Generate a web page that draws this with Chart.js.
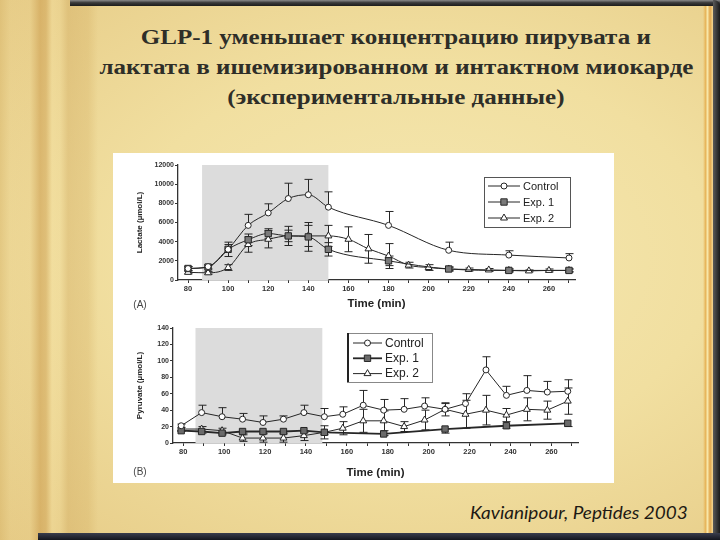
<!DOCTYPE html>
<html>
<head>
<meta charset="utf-8">
<script src="https://cdn.jsdelivr.net/npm/chart.js@4.4.1/dist/chart.umd.min.js"></script>
<style>
html, body { margin: 0; padding: 0; }
#slide {
    position: relative; width: 720px; height: 540px; overflow: hidden;
    background:
        linear-gradient(to right,
            rgba(205,165,85,0.30) 0px, rgba(230,200,130,0.10) 10px, rgba(230,200,130,0.15) 30px,
            rgba(200,150,70,0.50) 40px, rgba(200,150,70,0.40) 46px, rgba(250,232,170,0.25) 52px,
            rgba(250,232,170,0.10) 60px, rgba(205,165,90,0.35) 68px, rgba(210,172,95,0.30) 88px,
            rgba(240,220,160,0) 98px),
        radial-gradient(ellipse at 58% 48%, #f5e8b2 0%, #f1dfa0 50%, #e6cb86 100%);
}
.bar { position: absolute; }
#title {
    position: absolute; left: 96px; top: 22px; width: 600px;
    text-align: center; white-space: nowrap;
    font: bold 20px 'Liberation Serif', 'DejaVu Serif', 'Times New Roman', serif;
    line-height: 30px; color: #2e2e28;
}
#title span { display: inline-block; transform-origin: 50% 50%; }
#cite {
    position: absolute; right: 32px; top: 503px; white-space: nowrap;
    font: italic 18px Lato, 'Open Sans', sans-serif; line-height: 18px; color: #1e1a14;
    transform-origin: 100% 50%;
}
#paper { position: absolute; left: 113px; top: 153px; width: 501px; height: 330px; background: #fff; }
#boxA { position: absolute; left: 0; top: 0; width: 501px; height: 163px; }
#boxB { position: absolute; left: 0; top: 163px; width: 501px; height: 167px; }
</style>
</head>
<body>
<div id="slide">
    <div class="bar" style="left:70px;top:0;width:650px;height:6px;background:linear-gradient(#8a8a8a,#3a3a3a 45%,#1c1c1c);"></div>
    <div class="bar" style="left:703px;top:6px;width:10px;height:527px;background:linear-gradient(to right,rgba(0,0,0,0),#e7b65c 25%,#f7e6a8 45%,#e2a64a 70%,#f3d896);"></div>
    <div class="bar" style="left:713px;top:0;width:7px;height:540px;background:linear-gradient(to right,#5a5a5a,#1a1a1a);border-top-right-radius:6px;"></div>
    <div class="bar" style="left:38px;top:533px;width:682px;height:7px;background:linear-gradient(#3a3d4c,#14161f);"></div>

    <div id="title">
        <div><span>GLP-1 уменьшает концентрацию пирувата и</span></div>
        <div><span>лактата в ишемизированном и интактном миокарде</span></div>
        <div><span>(экспериментальные данные)</span></div>
    </div>

    <div id="paper">
        <div id="boxA"><canvas id="lactate"></canvas></div>
        <div id="boxB"><canvas id="pyruvate"></canvas></div>
    </div>

    <div id="cite">Kavianipour, Peptides 2003</div>
</div>

<script>
// ---- data ----
const timeTicks = [80, 90, 100, 110, 120, 130, 140, 150, 160, 170, 180, 190, 200, 210, 220, 230, 240, 250, 260, 270];

// (A) lactate, µmol/L
const lacX = [80, 90, 100, 110, 120, 130, 140, 150, 180, 210, 240, 270];
const lacX2 = [80, 90, 100, 110, 120, 130, 140, 150, 160, 170, 180, 190, 200, 210, 220, 230, 240, 250, 260, 270];
const lacControl = [1200, 1400, 3200, 5700, 7000, 8500, 8900, 7600, 5700, 3100, 2600, 2300];
const lacControlErr = [200, 200, 500, 1150, 950, 1600, 1600, 1600, 1450, 850, 450, 450];
const lacExp1 = [1200, 1350, 3200, 4200, 4850, 4600, 4500, 3200, 2000, 1150, 1000, 1000];
const lacExp1Err = [200, 200, 750, 600, 500, 600, 1500, 700, 500, 200, 150, 150];
const lacExp2 = [800, 750, 1300, 3700, 4250, 4600, 4600, 4600, 4250, 3250, 2500, 1550, 1300, 1150, 1100, 1050, 1000, 950, 1000, 1000];
const lacExp2Err = [150, 150, 300, 800, 900, 1000, 1100, 1100, 1300, 1500, 1300, 300, 300, 200, 150, 150, 150, 100, 150, 150];
const lacTicks = [0, 2000, 4000, 6000, 8000, 10000, 12000];
const lacShade = [87, 150];

// (B) pyruvate, µmol/L
const pyrX = [79, 89, 99, 109, 119, 129, 139, 149, 158, 168, 178, 188, 198, 208, 218, 228, 238, 248, 258, 268];
const pyrX1 = [79, 89, 99, 109, 119, 129, 139, 149, 178, 208, 238, 268];
const pyrControl = [21, 37, 32, 29, 25, 29, 37, 32, 35, 46, 40, 41, 45, 41, 48, 89, 58, 64, 62, 63];
const pyrControlErr = [2, 9, 11, 7, 8, 4, 9, 10, 9, 18, 13, 13, 10, 7, 12, 16, 11, 18, 13, 14];
const pyrExp1 = [15, 14, 12, 14, 14, 14, 15, 13, 11, 17, 21, 24];
const pyrExp1Err = [1, 2, 2, 2, 2, 2, 2, 3, 2, 5, 3, 4];
const pyrExp2 = [17, 17, 15, 6, 6, 6, 9, 13, 18, 27, 27, 20, 28, 41, 35, 40, 34, 41, 40, 51];
const pyrExp2Err = [2, 3, 3, 4, 5, 5, 6, 8, 8, 14, 12, 6, 12, 8, 17, 18, 8, 14, 11, 16];
const pyrTicks = [0, 20, 40, 60, 80, 100, 120, 140];
const pyrShade = [86, 148];

// ---- title / citation: source slide is stretched sideways, so fit widths ----
const titleSpans = document.querySelectorAll('#title span');
const stretch = 594 / titleSpans[1].getBoundingClientRect().width;
titleSpans.forEach(s => { s.style.transform = 'scaleX(' + stretch + ')'; });
const cite = document.getElementById('cite');
cite.style.transform = 'scaleX(' + (218 / cite.getBoundingClientRect().width) + ')';

// ---- plugins ----
const ink = '#262626';

const shade = {
    id: 'shade',
    beforeDatasetsDraw(chart, args, opts) {
        const {ctx, scales: {x, y}} = chart;
        const x0 = x.getPixelForValue(opts.from), x1 = x.getPixelForValue(opts.to);
        const y0 = y.getPixelForValue(y.max), y1 = y.getPixelForValue(0);
        ctx.save();
        ctx.fillStyle = opts.color;
        ctx.fillRect(x0, y0, x1 - x0, y1 - y0);
        ctx.restore();
    }
};

const errorBars = {
    id: 'errorBars',
    beforeDatasetsDraw(chart) {
        const {ctx, scales: {x, y}} = chart;
        ctx.save();
        chart.data.datasets.forEach(ds => {
            ctx.strokeStyle = ink;
            ctx.lineWidth = ds.errWidth || 1;
            ds.data.forEach((p, i) => {
                const e = ds.err[i];
                if (!e) return;
                const px = Math.round(x.getPixelForValue(p.x)) + 0.5;
                const yc = y.getPixelForValue(p.y);
                const ends = [];
                if (ds.errDir !== 'down') ends.push(y.getPixelForValue(p.y + e));
                if (ds.errDir !== 'up') ends.push(y.getPixelForValue(Math.max(0, p.y - e)));
                ends.forEach(ye => {
                    ctx.beginPath();
                    ctx.moveTo(px, yc); ctx.lineTo(px, ye);
                    ctx.moveTo(px - 4, ye); ctx.lineTo(px + 4, ye);
                    ctx.stroke();
                });
            });
        });
        ctx.restore();
    }
};

const boxLegend = {
    id: 'boxLegend',
    afterDraw(chart, args, o) {
        const ctx = chart.ctx;
        ctx.save();
        ctx.fillStyle = '#fff';
        ctx.fillRect(o.x, o.y, o.w, o.h);
        ctx.strokeStyle = o.border;
        ctx.lineWidth = 1;
        ctx.strokeRect(o.x + 0.5, o.y + 0.5, o.w, o.h);
        if (o.leftWidth) {
            ctx.fillStyle = '#222';
            ctx.fillRect(o.x, o.y, o.leftWidth, o.h);
        }
        chart.data.datasets.forEach((ds, i) => {
            const cy = o.y + o.firstRow + i * o.rowGap;
            ctx.strokeStyle = ds.borderColor;
            ctx.lineWidth = ds.borderWidth;
            ctx.beginPath();
            ctx.moveTo(o.x + o.lineFrom, cy); ctx.lineTo(o.x + o.lineTo, cy);
            ctx.stroke();
            ctx.fillStyle = ds.pointBackgroundColor;
            ctx.strokeStyle = ds.pointBorderColor;
            ctx.lineWidth = 1;
            Chart.helpers.drawPoint(ctx, {pointStyle: ds.pointStyle, radius: ds.pointRadius, borderWidth: 1, rotation: 0},
                o.x + (o.lineFrom + o.lineTo) / 2, cy);
            ctx.fillStyle = '#222';
            ctx.font = o.font;
            ctx.textBaseline = 'middle';
            ctx.fillText(ds.label, o.x + o.textX, cy + 0.5);
        });
        ctx.restore();
    }
};

const panelTag = {
    id: 'panelTag',
    afterDraw(chart, args, o) {
        const ctx = chart.ctx;
        ctx.save();
        ctx.fillStyle = '#444';
        ctx.font = "10px 'Liberation Sans', Arial, sans-serif";
        ctx.textAlign = 'center';
        ctx.textBaseline = 'middle';
        ctx.fillText(o.text, o.x, o.y);
        ctx.restore();
    }
};

// ---- chart helpers ----
function series(label, xs, ys, errs, errDir, style) {
    return Object.assign({
        label: label,
        data: xs.map((x, i) => ({x: x, y: ys[i]})),
        err: errs,
        errDir: errDir,
        borderColor: ink,
        borderWidth: 1,
        pointBorderColor: ink,
        pointBorderWidth: 1,
        pointBackgroundColor: '#fff',
        fill: false
    }, style);
}

function axisOptions(p) {
    const tickGrid = {display: true, drawOnChartArea: false, drawTicks: true, tickLength: 3, color: '#333', lineWidth: 1};
    const axisBorder = {display: true, color: '#333', width: 1.3};
    return {
        x: {
            type: 'linear', min: 75, max: 273,
            afterBuildTicks: s => { s.ticks = timeTicks.map(v => ({value: v})); },
            afterFit: s => { s.height = p.xHeight; },
            ticks: {
                autoSkip: false, maxRotation: 0, padding: 1, color: '#333',
                font: {size: 7.5, weight: 'bold'},
                callback: v => (v % 20 === 0 ? String(v) : '')
            },
            grid: tickGrid, border: axisBorder,
            title: {display: true, text: 'Time (min)', color: '#222',
                font: {size: 11.5, weight: 'bold'}, padding: {top: 0, bottom: p.xTitlePad}}
        },
        y: {
            type: 'linear', min: 0, max: p.yMax,
            afterBuildTicks: s => { s.ticks = p.yTicks.map(v => ({value: v})); },
            afterFit: s => { s.width = p.yWidth; },
            ticks: {padding: 1, color: '#333', font: {size: 7, weight: 'bold'}, callback: v => String(v)},
            grid: tickGrid, border: axisBorder,
            title: {display: true, text: p.yTitle, color: '#222',
                font: {size: 8, weight: 'bold'}, padding: {top: p.yTitlePad, bottom: 0}}
        }
    };
}

Chart.defaults.font.family = "'Liberation Sans', Arial, sans-serif";

new Chart(document.getElementById('lactate'), {
    type: 'line',
    data: {
        datasets: [
            series('Control', lacX, lacControl, lacControlErr, 'up', {pointStyle: 'circle', pointRadius: 3}),
            series('Exp. 1', lacX, lacExp1, lacExp1Err, 'both', {pointStyle: 'rect', pointRadius: 4.5, pointBackgroundColor: '#7a7a7a'}),
            series('Exp. 2', lacX2, lacExp2, lacExp2Err, 'both', {pointStyle: 'triangle', pointRadius: 4})
        ]
    },
    options: {
        responsive: true, maintainAspectRatio: false, animation: false, devicePixelRatio: 1,
        layout: {padding: {left: 0, top: 12, right: 39, bottom: 0}},
        elements: {line: {cubicInterpolationMode: 'monotone'}},
        plugins: {
            legend: {display: false}, tooltip: {enabled: false},
            shade: {from: lacShade[0], to: lacShade[1], color: '#dcdcdc'},
            boxLegend: {x: 371, y: 24, w: 86, h: 50, firstRow: 9, rowGap: 16, lineFrom: 4, lineTo: 36, textX: 39,
                border: '#555', font: "11px 'Liberation Sans', Arial, sans-serif"},
            panelTag: {text: '(A)', x: 27, y: 152}
        },
        scales: axisOptions({xHeight: 36, xTitlePad: 5.5, yMax: 12000, yTicks: lacTicks, yWidth: 65,
            yTitle: 'Lactate (µmol/L)', yTitlePad: 22})
    },
    plugins: [shade, errorBars, boxLegend, panelTag]
});

new Chart(document.getElementById('pyruvate'), {
    type: 'line',
    data: {
        datasets: [
            series('Control', pyrX, pyrControl, pyrControlErr, 'up', {pointStyle: 'circle', pointRadius: 3}),
            series('Exp. 1', pyrX1, pyrExp1, pyrExp1Err, 'down', {pointStyle: 'rect', pointRadius: 4.5, borderWidth: 1.8, pointBackgroundColor: '#6a6a6a'}),
            series('Exp. 2', pyrX, pyrExp2, pyrExp2Err, 'both', {pointStyle: 'triangle', pointRadius: 4})
        ]
    },
    options: {
        responsive: true, maintainAspectRatio: false, animation: false, devicePixelRatio: 1,
        layout: {padding: {left: 0, top: 12, right: 36, bottom: 0}},
        elements: {line: {tension: 0}},
        plugins: {
            legend: {display: false}, tooltip: {enabled: false},
            shade: {from: pyrShade[0], to: pyrShade[1], color: '#dcdcdc'},
            boxLegend: {x: 234, y: 17, w: 85, h: 49, firstRow: 10, rowGap: 15.3, lineFrom: 6, lineTo: 35, textX: 38,
                border: '#888', leftWidth: 2, font: "12px 'Liberation Sans', Arial, sans-serif"},
            panelTag: {text: '(B)', x: 27, y: 156}
        },
        scales: axisOptions({xHeight: 40, xTitlePad: 3.5, yMax: 140, yTicks: pyrTicks, yWidth: 60,
            yTitle: 'Pyruvate (µmol/L)', yTitlePad: 22})
    },
    plugins: [shade, errorBars, boxLegend, panelTag]
});
</script>
</body>
</html>
